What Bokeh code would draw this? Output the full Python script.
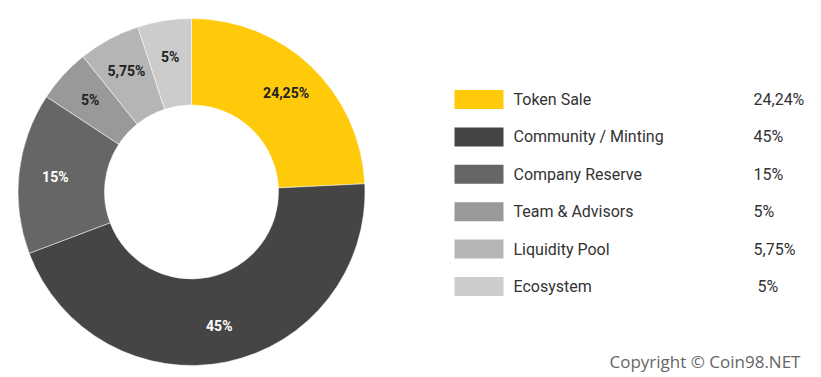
import math
from bokeh.plotting import figure
from bokeh.models import Range1d, ColumnDataSource
from bokeh.core.properties import value
from bokeh.embed import file_html
from bokeh.resources import INLINE

categories = ["Token Sale", "Community / Minting", "Company Reserve", "Team & Advisors", "Liquidity Pool", "Ecosystem"]
shares = [24.25, 45, 15, 5, 5.75, 5]
slice_labels = ["24,25%", "45%", "15%", "5%", "5,75%", "5%"]
legend_values = ["24,24%", "45%", "15%", "5%", "5,75%", "\u00a05%"]
colors = ["#FFCA0A", "#454545", "#666666", "#999999", "#B5B5B5", "#CCCCCC"]
label_colors = ["#222222", "#FFFFFF", "#FFFFFF", "#222222", "#222222", "#222222"]

W, H = 821, 377
cx, cy = 191, H - 191.5
r_out, r_in = 173.5, 87
r_lab = 137

total = sum(shares)
starts, ends, lx, ly = [], [], [], []
cum = 0.0
for s in shares:
    a0 = math.pi / 2 - 2 * math.pi * cum / total
    cum += s
    a1 = math.pi / 2 - 2 * math.pi * cum / total
    starts.append(a0)
    ends.append(a1)
    mid = (a0 + a1) / 2
    lx.append(cx + r_lab * math.cos(mid))
    ly.append(cy + r_lab * math.sin(mid))

p = figure(width=W, height=H, output_backend="svg", toolbar_location=None,
           x_range=Range1d(0, W), y_range=Range1d(0, H), min_border=0)
p.axis.visible = False
p.grid.visible = False
p.outline_line_color = None
p.background_fill_color = "white"
p.border_fill_color = "white"

src = ColumnDataSource(dict(start=starts, end=ends, color=colors, lx=lx, ly=ly,
                            lab=slice_labels, lc=label_colors))
p.annular_wedge(x=cx, y=cy, inner_radius=r_in, outer_radius=r_out,
                start_angle="start", end_angle="end", direction="clock",
                fill_color="color", line_color="white", line_width=0.5, source=src)
p.text(x="lx", y="ly", text="lab", text_color="lc", source=src,
       text_font=value("Roboto"), text_font_size="14px", text_font_style="bold",
       text_align="center", text_baseline="middle")

# legend
row_y = [H - (99 + 37.4 * i) for i in range(len(categories))]
leg = ColumnDataSource(dict(y=row_y, color=colors, cat=categories, val=legend_values))
p.rect(x=478.5, y="y", width=49, height=19, fill_color="color", line_color=None, source=leg)
p.text(x=513, y="y", text="cat", source=leg, text_color="#333333",
       text_font=value("Roboto"), text_font_size="16px",
       text_align="left", text_baseline="middle")
p.text(x=753, y="y", text="val", source=leg, text_color="#333333",
       text_font=value("Roboto"), text_font_size="16px",
       text_align="left", text_baseline="middle")

p.text(x=[609], y=[H - 361], text=["Copyright © Coin98.NET"], text_color="#666666",
       text_font=value("Open Sans"), text_font_size="17px",
       text_align="left", text_baseline="middle")

open("out.html", "w").write(file_html(p, INLINE))
